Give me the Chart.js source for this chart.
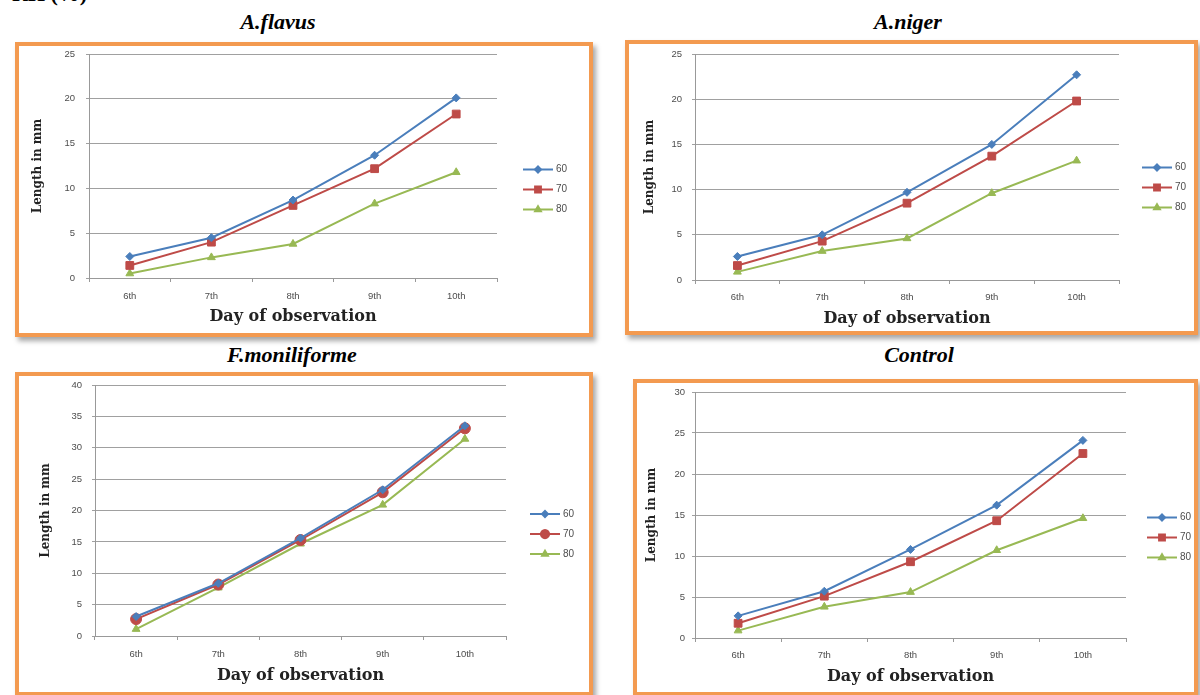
<!DOCTYPE html>
<html>
<head>
<meta charset="utf-8">
<script src="https://cdn.jsdelivr.net/npm/chart.js@4.4.1/dist/chart.umd.min.js"></script>
<style>
  html, body { margin: 0; padding: 0; background: #ffffff; }
  body { width: 1200px; height: 695px; position: relative; overflow: hidden; }
  .head { position: absolute; font-family: "Liberation Serif", "Times New Roman", serif; font-weight: bold; white-space: nowrap; line-height: 22px; }
  .title { font-style: italic; font-size: 22px; transform: translateX(-50%); }
  .frame { position: absolute; box-sizing: border-box; border: 4px solid #f39a50; background: #ffffff;
           box-shadow: 3px 4px 5px rgba(0,0,0,0.35); }
  .frame canvas { position: absolute; left: 0; top: 0; }
</style>
</head>
<body>
<div class="head" style="left:12px; top:-17px; font-size:22px;">RH (%)</div>
<div class="head title" style="left:278px; top:11px;">A.flavus</div>
<div class="head title" style="left:908px; top:11px;">A.niger</div>
<div class="head title" style="left:292px; top:344px;">F.moniliforme</div>
<div class="head title" style="left:919px; top:344px;">Control</div>

<div class="frame" style="left:15px; top:42px; width:578px; height:295px;"><canvas id="cFlavus" width="570" height="287"></canvas></div>
<div class="frame" style="left:625px; top:40px; width:573px; height:295px;"><canvas id="cNiger" width="565" height="287"></canvas></div>
<div class="frame" style="left:15px; top:372px; width:578px; height:324px;"><canvas id="cMonili" width="570" height="316"></canvas></div>
<div class="frame" style="left:633px; top:379px; width:565px; height:317px;"><canvas id="cControl" width="557" height="309"></canvas></div>

<script>
// Days of observation on the x axis, relative humidity levels as series
const days = ['6th', '7th', '8th', '9th', '10th'];
const rhLevels = ['60', '70', '80'];

// Length in mm per RH level
const flavus60 = [2.4, 4.5, 8.7, 13.7, 20.1];
const flavus70 = [1.4, 4.0, 8.1, 12.2, 18.3];
const flavus80 = [0.5, 2.3, 3.8, 8.3, 11.8];

const niger60 = [2.6, 5.0, 9.7, 15.0, 22.7];
const niger70 = [1.6, 4.3, 8.5, 13.7, 19.8];
const niger80 = [0.9, 3.2, 4.6, 9.6, 13.2];

const monili60 = [3.1, 8.4, 15.6, 23.3, 33.5];
const monili70 = [2.7, 8.2, 15.3, 22.9, 33.1];
const monili80 = [1.1, 7.7, 14.7, 20.9, 31.4];

const control60 = [2.7, 5.7, 10.8, 16.2, 24.1];
const control70 = [1.8, 5.1, 9.3, 14.3, 22.5];
const control80 = [0.9, 3.8, 5.6, 10.7, 14.6];

// y axis upper limits
const flavusMax = 25, nigerMax = 25, moniliMax = 40, controlMax = 30;

const seriesColors = ['#4a7ebb', '#be4b48', '#98b954'];
const seriesMarkers = ['rectRot', 'rect', 'triangle'];
const seriesRadius = [4, 5.5, 4.5];

const tickFont = { family: '"Liberation Sans", Arial, sans-serif', size: 9.5 };
const tickColor = '#4d4d4d';

// Legend on the right: a short line with its marker, then the label
const sideLegend = {
  id: 'sideLegend',
  afterDraw(chart, args, opts) {
    const ctx = chart.ctx;
    const area = chart.chartArea;
    const n = chart.data.datasets.length;
    const cy = chart.height / 2;
    ctx.save();
    chart.data.datasets.forEach((ds, i) => {
      const y = cy + (i - (n - 1) / 2) * opts.rowGap;
      const x0 = area.right + opts.offset;
      const x1 = x0 + opts.lineLen;
      ctx.strokeStyle = ds.borderColor;
      ctx.lineWidth = 2;
      ctx.beginPath();
      ctx.moveTo(x0, y);
      ctx.lineTo(x1, y);
      ctx.stroke();
      ctx.fillStyle = ds.pointBackgroundColor;
      ctx.strokeStyle = ds.pointBorderColor;
      Chart.helpers.drawPoint(ctx, {
        pointStyle: ds.pointStyle, radius: ds.pointRadius * 0.75,
        rotation: 0, borderWidth: 1
      }, (x0 + x1) / 2, y);
      ctx.fillStyle = tickColor;
      ctx.font = '10px "Liberation Sans", Arial, sans-serif';
      ctx.textAlign = 'left';
      ctx.textBaseline = 'middle';
      ctx.fillText(ds.label, x1 + 3, y);
    });
    ctx.restore();
  }
};

function makeChart(id, series, yMax, geo, markers) {
  const datasets = series.map((vals, i) => ({
    label: rhLevels[i],
    data: vals,
    borderColor: seriesColors[i],
    backgroundColor: seriesColors[i],
    pointBackgroundColor: seriesColors[i],
    pointBorderColor: seriesColors[i],
    pointStyle: (markers || seriesMarkers)[i],
    pointRadius: seriesRadius[i],
    pointBorderWidth: 1,
    borderWidth: 2,
    tension: 0,
    fill: false
  }));
  return new Chart(document.getElementById(id), {
    type: 'line',
    data: { labels: days, datasets: datasets },
    plugins: [sideLegend],
    options: {
      responsive: false,
      animation: false,
      layout: { padding: { left: 0, top: geo.top, right: geo.right, bottom: 0 } },
      plugins: {
        legend: { display: false },
        tooltip: { enabled: false },
        sideLegend: { offset: geo.legOff, lineLen: 30, rowGap: 20 }
      },
      scales: {
        x: {
          offset: true,
          grid: { offset: true, drawOnChartArea: false, drawTicks: true, tickLength: 4, color: '#999999' },
          border: { color: '#999999', width: 1 },
          ticks: { color: tickColor, font: tickFont, padding: geo.xPad },
          title: {
            display: true, text: 'Day of observation', color: '#222222',
            font: { family: '"DejaVu Serif", serif', size: 16, weight: 'bold' },
            padding: { top: 0, bottom: geo.xTitle }
          },
          afterFit: (s) => { s.height = geo.xH; }
        },
        y: {
          min: 0, max: yMax,
          ticks: { stepSize: 5, color: tickColor, font: tickFont, padding: 1 },
          // the tick gap keeps labels clear of the axis; only its last 3px are drawn
          grid: { color: '#a0a0a0', lineWidth: 1, tickLength: geo.yGap,
                  tickBorderDash: [3, geo.yGap - 3], tickBorderDashOffset: 3 },
          border: { color: '#999999', width: 1 },
          title: {
            display: true, text: 'Length in mm', color: '#222222',
            font: { family: '"DejaVu Serif", serif', size: 12, weight: 'bold' },
            padding: { top: geo.yTitle, bottom: 0 }
          },
          afterFit: (s) => { s.width = geo.yW; }
        }
      }
    }
  });
}

makeChart('cFlavus', [flavus60, flavus70, flavus80], flavusMax,
  { top: 8, right: 92, yW: 70, xH: 55, xPad: 9, xTitle: 7, yTitle: 12, yGap: 13, legOff: 26 });
makeChart('cNiger', [niger60, niger70, niger80], nigerMax,
  { top: 10, right: 75, yW: 66, xH: 51, xPad: 8, xTitle: 3, yTitle: 14, yGap: 12, legOff: 23 });
makeChart('cMonili', [monili60, monili70, monili80], moniliMax,
  { top: 9, right: 83, yW: 76, xH: 56, xPad: 9, xTitle: 7, yTitle: 20, yGap: 12, legOff: 24 },
  ['rectRot', 'circle', 'triangle']);
makeChart('cControl', [control60, control70, control80], controlMax,
  { top: 9, right: 68, yW: 58, xH: 54, xPad: 8, xTitle: 6, yTitle: 8, yGap: 9, legOff: 21 });
</script>
</body>
</html>
